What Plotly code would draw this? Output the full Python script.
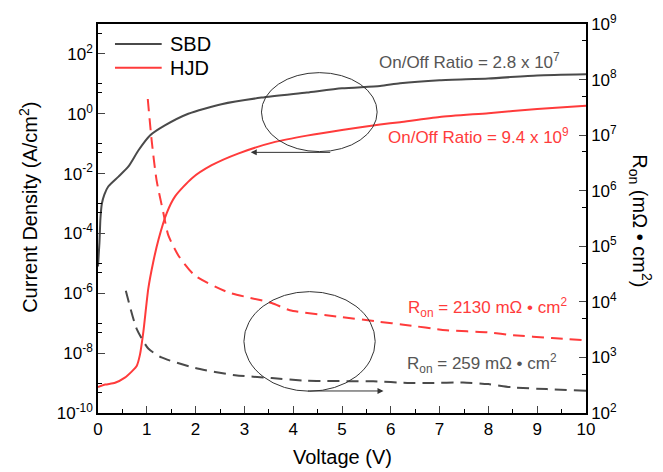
import plotly.graph_objects as go

# ---- data ----
sbd_V = [0.0, 0.03, 0.05, 0.08, 0.13, 0.21, 0.42, 0.62, 0.83, 1.07, 1.37, 1.85, 2.53, 3.35, 4.28, 5.0, 5.78, 6.19, 7.0, 8.0, 9.0, 10.0]
sbd_logJ = [-5.1, -4.3, -3.5, -3.0, -2.7, -2.43, -2.1, -1.77, -1.22, -0.72, -0.39, 0.0, 0.32, 0.54, 0.71, 0.85, 0.93, 1.02, 1.12, 1.18, 1.28, 1.32]

hjd_V = [0.0, 0.15, 0.35, 0.55, 0.7, 0.79, 0.86, 0.93, 1.03, 1.13, 1.24, 1.41, 1.58, 1.92, 2.33, 2.87, 3.63, 4.28, 5.0, 5.78, 6.19, 7.0, 8.0, 9.0, 10.0]
hjd_logJ = [-9.13, -9.05, -8.99, -8.82, -8.6, -8.44, -8.05, -7.28, -5.85, -4.97, -4.2, -3.31, -2.76, -2.16, -1.72, -1.33, -0.94, -0.73, -0.54, -0.36, -0.28, -0.11, 0.02, 0.16, 0.27]

hjd_ron_V = [1.02, 1.1, 1.2, 1.34, 1.44, 1.65, 1.99, 2.67, 3.08, 3.56, 3.93, 4.96, 5.78, 6.26, 7.14, 8.0, 8.51, 9.3, 10.0]
hjd_ron_logR = [7.65, 6.9, 6.19, 5.6, 5.2, 4.83, 4.47, 4.17, 4.08, 3.98, 3.85, 3.73, 3.64, 3.59, 3.49, 3.45, 3.40, 3.35, 3.31]

sbd_ron_V = [0.57, 0.79, 1.03, 1.3, 1.99, 2.81, 3.56, 4.28, 5.64, 6.39, 6.8, 7.48, 8.0, 8.51, 9.2, 10.0]
sbd_ron_logR = [4.20, 3.52, 3.16, 3.0, 2.81, 2.68, 2.63, 2.58, 2.57, 2.54, 2.54, 2.55, 2.52, 2.46, 2.43, 2.40]

series_names = ["SBD", "HJD"]
left_exps = [-10, -8, -6, -4, -2, 0, 2]
right_exps = [2, 3, 4, 5, 6, 7, 8, 9]
x_ticks = [0, 1, 2, 3, 4, 5, 6, 7, 8, 9, 10]

GRAY = "#4a4a4a"
RED = "#ff3b3b"
FONT = "Liberation Sans, Arial, sans-serif"


def pw(vals):
    return [10 ** v for v in vals]


fig = go.Figure()
fig.add_trace(go.Scatter(x=sbd_V, y=pw(sbd_logJ), mode="lines", name=series_names[0], showlegend=False,
                         line=dict(color=GRAY, width=2, shape="spline", smoothing=0.6)))
fig.add_trace(go.Scatter(x=hjd_V, y=pw(hjd_logJ), mode="lines", name=series_names[1], showlegend=False,
                         line=dict(color=RED, width=2, shape="spline", smoothing=0.6)))
fig.add_trace(go.Scatter(x=hjd_ron_V, y=pw(hjd_ron_logR), mode="lines", showlegend=False, yaxis="y2",
                         line=dict(color=RED, width=2, dash="12px,7px", shape="spline", smoothing=0.6)))
fig.add_trace(go.Scatter(x=sbd_ron_V, y=pw(sbd_ron_logR), mode="lines", showlegend=False, yaxis="y2",
                         line=dict(color=GRAY, width=2, dash="12px,7px", shape="spline", smoothing=0.6)))

left_minor = [10 ** e for e in range(-9, 3, 2)] + [5 * 10 ** e for e in range(-10, 3, 2)]
right_minor = [5 * 10 ** e for e in range(2, 9)]

fig.update_layout(
    width=663, height=472,
    margin=dict(l=98, r=77, t=19, b=59),
    paper_bgcolor="white", plot_bgcolor="white",
    font=dict(family=FONT, size=17, color="black"),
    showlegend=False,
    xaxis=dict(range=[0, 10], tickvals=x_ticks, ticks="inside", ticklen=7, tickwidth=1.3,
               showline=True, linecolor="black", linewidth=1.5, mirror=True, showgrid=False,
               zeroline=False, tickfont=dict(size=17),
               minor=dict(ticks="inside", ticklen=4, dtick=0.5, tickwidth=1.2, tickcolor="black")),
    yaxis=dict(type="log", range=[-10, 3],
               tickvals=[10 ** e for e in left_exps],
               ticktext=["10<sup>%d</sup>" % e for e in left_exps],
               ticks="inside", ticklen=7, tickwidth=1.3, showline=True, linecolor="black",
               linewidth=1.5, mirror=True, showgrid=False, zeroline=False, tickfont=dict(size=17),
               minor=dict(ticks="inside", ticklen=4, tickvals=left_minor, tickwidth=1.2, tickcolor="black")),
    yaxis2=dict(type="log", range=[2, 9], overlaying="y", side="right",
                tickvals=[10 ** e for e in right_exps],
                ticktext=["10<sup>%d</sup>" % e for e in right_exps],
                ticks="inside", ticklen=7, tickwidth=1.3, showline=True, linecolor="black",
                linewidth=1.5, showgrid=False, zeroline=False, tickfont=dict(size=17),
                minor=dict(ticks="inside", ticklen=4, tickvals=right_minor, tickwidth=1.2, tickcolor="black")),
)

# legend (drawn manually to match the long sample lines)
legend_rows = [(series_names[0], GRAY, 0.9485), (series_names[1], RED, 0.8876)]
for name, col, yy in legend_rows:
    fig.add_shape(type="line", xref="paper", yref="paper", x0=0.0348, x1=0.1305, y0=yy, y1=yy,
                  line=dict(color=col, width=2))
    fig.add_annotation(text=name, xref="paper", yref="paper", x=0.1434, y=yy, xanchor="left",
                       yanchor="middle", showarrow=False, font=dict(size=20, color="black"))

# axis titles
fig.add_annotation(text="Voltage (V)", xref="paper", yref="paper", x=0.502, y=-0.112,
                   showarrow=False, font=dict(size=20), xanchor="center", yanchor="middle")
fig.add_annotation(text="Current Density (A/cm<sup>2</sup>)", xref="paper", yref="paper",
                   x=-0.143, y=0.528, textangle=-90, showarrow=False, font=dict(size=20),
                   xanchor="center", yanchor="middle")
fig.add_annotation(text="R<sub>on</sub> (mΩ • cm<sup>2</sup>)", xref="paper", yref="paper",
                   x=1.111, y=0.495, textangle=90, showarrow=False, font=dict(size=20),
                   xanchor="center", yanchor="middle")

# text labels
fig.add_annotation(text="On/Off Ratio = 2.8 x 10<sup>7</sup>", xref="paper", yref="paper",
                   x=0.572, y=0.904, xanchor="left", yanchor="middle", showarrow=False,
                   font=dict(size=17, color="#555555"))
fig.add_annotation(text="On/Off Ratio = 9.4 x 10<sup>9</sup>", xref="paper", yref="paper",
                   x=0.590, y=0.713, xanchor="left", yanchor="middle", showarrow=False,
                   font=dict(size=17, color=RED))
fig.add_annotation(text="R<sub>on</sub> = 2130 mΩ • cm<sup>2</sup>", xref="paper", yref="paper",
                   x=0.632, y=0.270, xanchor="left", yanchor="middle", showarrow=False,
                   font=dict(size=17, color=RED))
fig.add_annotation(text="R<sub>on</sub> = 259 mΩ • cm<sup>2</sup>", xref="paper", yref="paper",
                   x=0.630, y=0.128, xanchor="left", yanchor="middle", showarrow=False,
                   font=dict(size=17, color="#555555"))

# ellipses
fig.add_shape(type="circle", xref="paper", yref="paper", x0=0.335, x1=0.572, y0=0.672, y1=0.875,
              line=dict(color="#333333", width=1))
fig.add_shape(type="circle", xref="paper", yref="paper", x0=0.299, x1=0.568, y0=0.056, y1=0.312,
              line=dict(color="#333333", width=1))

# arrows (tail offsets in pixels)
fig.add_annotation(xref="paper", yref="paper", x=0.313, y=0.670, ax=81, ay=0, text="",
                   showarrow=True, arrowhead=2, arrowsize=1.2, arrowwidth=1, arrowcolor="#333333")
fig.add_annotation(xref="paper", yref="paper", x=0.585, y=0.0566, ax=-77, ay=0, text="",
                   showarrow=True, arrowhead=2, arrowsize=1.2, arrowwidth=1, arrowcolor="#333333")

fig.write_html("out.html")
